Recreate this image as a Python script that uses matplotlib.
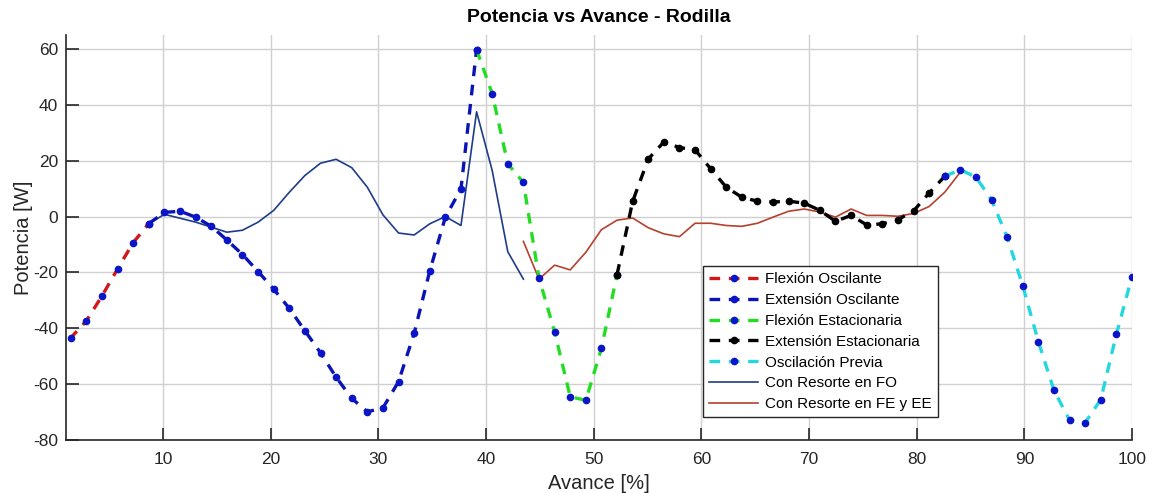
import matplotlib
matplotlib.use("Agg")
import matplotlib.pyplot as plt
import numpy as np

plt.rcParams['font.family'] = ['Liberation Sans', 'DejaVu Sans']
plt.rcParams['axes.unicode_minus'] = False

# Gait cycle sampling: 70 samples, k = 0..69, avance = 100*k/69 %
muestras = list(range(70))
avance = [100.0 * k / 69 for k in muestras]

# Knee power per phase (W), indexed by sample k
k_flex_osc = list(range(0, 7))
p_flex_osc = [-48.5, -43.4, -37.3, -28.4, -18.7, -9.3, -2.5]

k_ext_osc = list(range(6, 28))
p_ext_osc = [-2.5, 1.5, 1.9, -0.2, -3.5, -8.4, -13.6, -19.7, -26.0, -32.9,
             -40.9, -48.8, -57.5, -65.1, -69.9, -68.5, -59.1, -41.8, -19.5,
             -0.2, 9.9, 59.8]

k_flex_est = list(range(27, 37))
p_flex_est = [59.8, 44.0, 18.9, 12.2, -22.0, -41.3, -64.5, -65.8, -47.2, -20.8]

k_ext_est = list(range(36, 58))
p_ext_est = [-20.8, 5.4, 20.6, 26.7, 24.7, 23.9, 17.1, 10.5, 6.9, 5.5, 5.2,
             5.5, 4.8, 2.2, -1.7, 0.4, -3.0, -2.6, -1.1, 2.0, 8.4, 14.4]

k_osc_prev = list(range(57, 70))
p_osc_prev = [14.4, 16.8, 14.1, 6.0, -7.4, -24.8, -44.8, -62.2, -72.9, -73.8,
              -65.5, -42.1, -21.5]

# Power with spring in the swing-flexion phase
k_res_fo = list(range(6, 31))
p_res_fo = [-2.5, 0.8, -0.6, -2.0, -3.8, -5.6, -4.9, -2.0, 2.2, 8.7, 14.7,
            19.1, 20.5, 17.5, 10.5, 0.6, -5.9, -6.6, -2.6, 0.0, -3.2, 37.5,
            16.5, -12.6, -22.4]

# Power with spring in the stance flexion/extension phases
k_res_fe = list(range(30, 59))
p_res_fe = [-8.9, -22.4, -17.4, -19.1, -12.8, -4.7, -1.3, -0.5, -4.0, -6.2,
            -7.2, -2.4, -2.4, -3.2, -3.5, -2.4, -0.2, 1.9, 2.7, 1.6, -0.2,
            2.7, 0.4, 0.4, 0.1, 1.1, 3.6, 8.7, 15.9]

etiquetas = ["Flexión Oscilante", "Extensión Oscilante", "Flexión Estacionaria",
             "Extensión Estacionaria", "Oscilación Previa",
             "Con Resorte en FO", "Con Resorte en FE y EE"]

xticks = [10, 20, 30, 40, 50, 60, 70, 80, 90, 100]
yticks = [-80, -60, -40, -20, 0, 20, 40, 60]

fig = plt.figure(figsize=(11.52, 4.93), dpi=100)
ax = fig.add_axes([66 / 1152, 1 - 440 / 493, (1132 - 66) / 1152, (440 - 35) / 493])

def xs(ks):
    return [avance[k] for k in ks]

dash = (0, (3.2, 2.6))
mk_blue = '#0a14c8'
fases = [
    (k_flex_osc, p_flex_osc, '#d01818', mk_blue),
    (k_ext_osc, p_ext_osc, '#0a14b4', mk_blue),
    (k_flex_est, p_flex_est, '#22dd22', mk_blue),
    (k_ext_est, p_ext_est, '#000000', '#000000'),
    (k_osc_prev, p_osc_prev, '#22d8dc', mk_blue),
]
handles = []
for (ks, ps, col, mcol), lab in zip(fases, etiquetas[:5]):
    h, = ax.plot(xs(ks), ps, linestyle=dash, color=col, linewidth=2.4,
                 marker='o', markersize=4.5, markerfacecolor=mcol,
                 markeredgecolor=mcol, label=lab, zorder=3)
    handles.append(h)

h, = ax.plot(xs(k_res_fo), p_res_fo, color='#1f3c88', linewidth=1.2,
             label=etiquetas[5], zorder=2)
handles.append(h)
h, = ax.plot(xs(k_res_fe), p_res_fe, color='#b5412e', linewidth=1.2,
             label=etiquetas[6], zorder=2)
handles.append(h)

ax.set_xlim(1, 100)
ax.set_ylim(-80, 65)
ax.set_xticks(xticks)
ax.set_yticks(yticks)
ax.grid(True, color='#d0d0d0', linewidth=1.0)
ax.set_axisbelow(True)
for s in ['top', 'right']:
    ax.spines[s].set_visible(False)
for s in ['left', 'bottom']:
    ax.spines[s].set_color('#262626')
    ax.spines[s].set_linewidth(1.2)
ax.tick_params(direction='in', length=9, width=1.2, labelsize=12.5,
               colors='#262626')
ax.tick_params(axis='x', pad=9)
ax.tick_params(axis='y', pad=5.5)

ax.set_xlabel('Avance [%]', fontsize=14.5, color='#262626', labelpad=5)
ax.set_ylabel('Potencia [W]', fontsize=14.5, color='#262626', labelpad=0)
ax.set_title('Potencia vs Avance - Rodilla', fontsize=14, fontweight='bold',
             color='#000000', pad=9)

leg = ax.legend(handles=handles, loc='upper left',
                bbox_to_anchor=((703 - 66) / 1066, 1 - (266 - 35) / 405),
                fontsize=11, frameon=True, fancybox=False, framealpha=1,
                edgecolor='#262626', handlelength=3.2, handletextpad=0.45,
                labelspacing=0.45, borderpad=0.4, borderaxespad=0)
leg.get_frame().set_linewidth(1.0)

fig.savefig('out.png', dpi=100)
